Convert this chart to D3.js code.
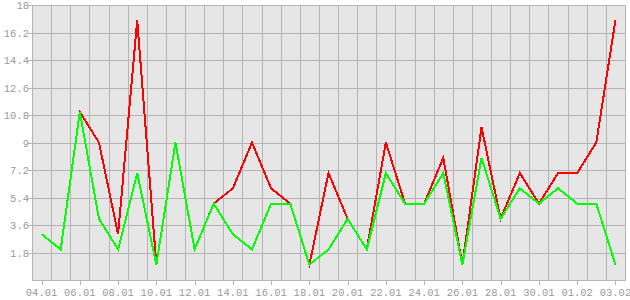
<!DOCTYPE html>
<html>
<head>
<meta charset="utf-8">
<script src="https://cdn.jsdelivr.net/npm/d3@7"></script>
<style>
  body { margin: 0; background: #fff; }
  text { font-family: "Liberation Mono", monospace; font-size: 10.5px; fill: #999; }
</style>
</head>
<body>
<div id="chart"></div>
<script>
// day labels, one per point
var days = ["04.01","05.01","06.01","07.01","08.01","09.01","10.01","11.01","12.01","13.01",
            "14.01","15.01","16.01","17.01","18.01","19.01","20.01","21.01","22.01","23.01",
            "24.01","25.01","26.01","27.01","28.01","29.01","30.01","31.01","01.02","02.02","03.02"];
var redValues   = [3,2,11,9,3,17,1,9,2,5,6,9,6,5,1,7,4,2,9,5,5,8,1,10,4,7,5,7,7,9,17];
var greenValues = [3,2,11,4,2,7,1,9,2,5,3,2,5,5,1,2,4,2,7,5,5,7,1,8,4,6,5,6,5,5,1];
var yTicks = [1.8, 3.6, 5.4, 7.2, 9, 10.8, 12.6, 14.4, 16.2, 18];

var W = 630, H = 300;
var pLeft = 32, pRight = 625, pTop = 5, pBottom = 280;

var svg = d3.select("#chart").append("svg")
    .attr("width", W)
    .attr("height", H);

var x = d3.scaleBand().domain(days).range([pLeft, pRight]).padding(0);
var y = d3.scaleLinear().domain([0, 18]).range([pBottom, pTop]);
var cx = function(d) { return x(d) + x.bandwidth() / 2; };

// plot background
svg.append("rect")
    .attr("x", pLeft).attr("y", pTop)
    .attr("width", pRight - pLeft).attr("height", pBottom - pTop)
    .attr("fill", "#e6e6e6");

var grid = svg.append("g")
    .attr("stroke", "#b4b4b4")
    .attr("stroke-width", 1)
    .attr("shape-rendering", "crispEdges");

// vertical grid lines at band edges
grid.selectAll(".vg").data(days.slice(1))
  .enter().append("line")
    .attr("x1", function(d) { return Math.round(x(d)) + 0.5; })
    .attr("x2", function(d) { return Math.round(x(d)) + 0.5; })
    .attr("y1", pTop).attr("y2", pBottom);

// horizontal grid lines
grid.selectAll(".hg").data(yTicks)
  .enter().append("line")
    .attr("x1", pLeft - 4).attr("x2", pRight)
    .attr("y1", function(d) { return Math.round(y(d)) + 0.5; })
    .attr("y2", function(d) { return Math.round(y(d)) + 0.5; });

// frame
grid.append("line").attr("x1", pLeft + 0.5).attr("x2", pLeft + 0.5).attr("y1", pTop).attr("y2", pBottom + 1);
grid.append("line").attr("x1", pRight + 0.5).attr("x2", pRight + 0.5).attr("y1", pTop).attr("y2", pBottom + 1);
grid.append("line").attr("x1", pLeft).attr("x2", pRight + 1).attr("y1", pBottom + 0.5).attr("y2", pBottom + 0.5);

// x ticks (every other day)
var labelDays = days.filter(function(d, i) { return i % 2 == 0; });
grid.selectAll(".xt").data(labelDays)
  .enter().append("line")
    .attr("x1", function(d) { return Math.round(cx(d)) + 0.5; })
    .attr("x2", function(d) { return Math.round(cx(d)) + 0.5; })
    .attr("y1", pBottom).attr("y2", pBottom + 5);

svg.selectAll(".xl").data(labelDays)
  .enter().append("text")
    .attr("x", function(d) { return cx(d); })
    .attr("y", 296)
    .attr("text-anchor", "middle")
    .text(function(d) { return d; });

svg.selectAll(".yl").data(yTicks)
  .enter().append("text")
    .attr("x", 29)
    .attr("y", function(d) { return y(d) + 4; })
    .attr("text-anchor", "end")
    .text(function(d) { return d; });

var line = function(vals) {
  return d3.line()
    .x(function(d, i) { return cx(days[i]); })
    .y(function(d) { return y(d); })(vals);
};

svg.append("path")
    .attr("d", line(redValues))
    .attr("fill", "none")
    .attr("stroke", "#ff0000")
    .attr("stroke-width", 2)
    .attr("shape-rendering", "crispEdges");

svg.append("path")
    .attr("d", line(greenValues))
    .attr("fill", "none")
    .attr("stroke", "#00ff00")
    .attr("stroke-width", 2)
    .attr("shape-rendering", "crispEdges");
</script>
</body>
</html>
